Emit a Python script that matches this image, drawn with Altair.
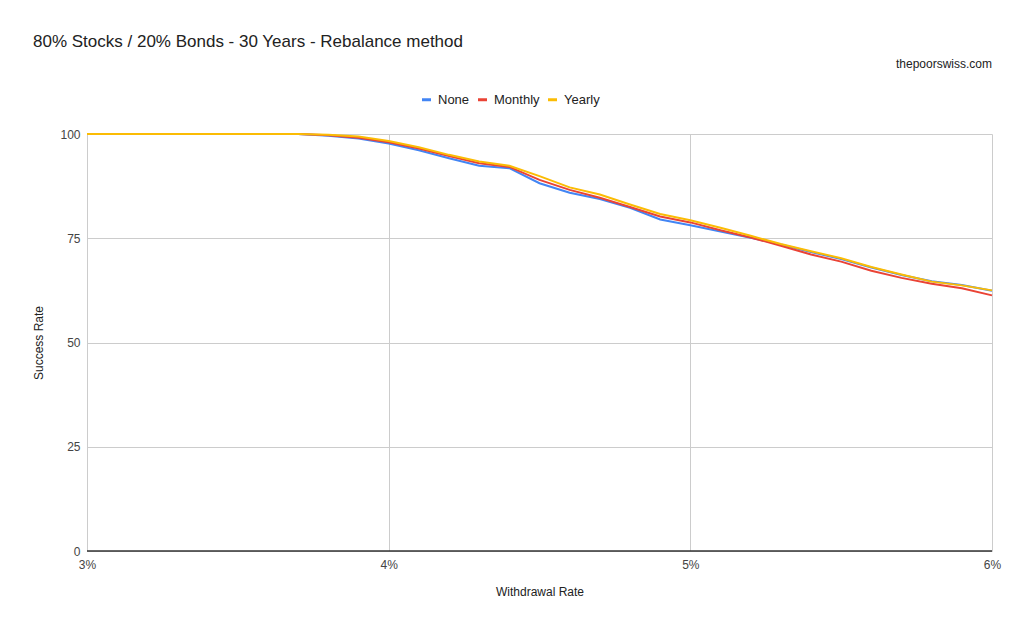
import altair as alt
import pandas as pd

rates = [3.0, 3.1, 3.2, 3.3, 3.4, 3.5, 3.6, 3.7, 3.8, 3.9,
         4.0, 4.1, 4.2, 4.3, 4.4, 4.5, 4.6, 4.7, 4.8, 4.9,
         5.0, 5.1, 5.2, 5.3, 5.4, 5.5, 5.6, 5.7, 5.8, 5.9, 6.0]

none_vals = [100, 100, 100, 100, 100, 100, 100, 100, 99.6, 98.9,
             97.7, 96.1, 94.2, 92.4, 91.8, 88.2, 85.9, 84.4, 82.3, 79.5,
             78.1, 76.6, 75.1, 73.5, 71.7, 70.0, 68.0, 66.2, 64.7, 63.8, 62.4]

monthly_vals = [100, 100, 100, 100, 100, 100, 100, 100, 99.7, 99.1,
                98.0, 96.5, 94.7, 93.0, 92.1, 89.0, 86.6, 84.7, 82.5, 80.2,
                78.8, 76.9, 75.2, 73.2, 71.1, 69.4, 67.2, 65.5, 64.1, 63.0, 61.3]

yearly_vals = [100, 100, 100, 100, 100, 100, 100, 100, 99.8, 99.4,
               98.3, 96.8, 95.0, 93.4, 92.4, 89.9, 87.2, 85.5, 83.1, 80.8,
               79.3, 77.5, 75.6, 73.6, 71.9, 70.2, 68.1, 66.3, 64.6, 63.7, 62.5]

series_names = ["None", "Monthly", "Yearly"]
series_colors = ["#4285F4", "#EA4335", "#FBBC04"]
x_ticks = [3, 4, 5, 6]
y_ticks = [0, 25, 50, 75, 100]

title_text = "80% Stocks / 20% Bonds - 30 Years - Rebalance method"
source_text = "thepoorswiss.com"

rows = []
for name, vals in zip(series_names, [none_vals, monthly_vals, yearly_vals]):
    for r, v in zip(rates, vals):
        rows.append({"rate": r, "value": v, "series": name,
                     "order": series_names.index(name)})
df = pd.DataFrame(rows)

FONT = "Liberation Sans"
W, H = 905, 417

lines = alt.Chart(df).mark_line(strokeWidth=2).encode(
    x=alt.X("rate:Q",
            scale=alt.Scale(domain=[3, 6], nice=False, zero=False),
            axis=alt.Axis(values=x_ticks, labelExpr="datum.value + '%'",
                          title="Withdrawal Rate", grid=True, domain=False,
                          ticks=False, labelPadding=8, titlePadding=16,
                          labelFlush=False)),
    y=alt.Y("value:Q",
            scale=alt.Scale(domain=[0, 100], nice=False),
            axis=alt.Axis(values=y_ticks, title="Success Rate", grid=True,
                          domain=False, ticks=False, labelPadding=7,
                          titlePadding=14, labelFlush=False)),
    color=alt.Color("series:N",
                    scale=alt.Scale(domain=series_names, range=series_colors),
                    sort=series_names,
                    legend=alt.Legend(title=None, orient="none",
                                      direction="horizontal",
                                      legendX=333, legendY=-41,
                                      symbolType="stroke",
                                      symbolStrokeWidth=3, symbolSize=81,
                                      labelFontSize=13, labelColor="#222222",
                                      labelFont=FONT, labelOffset=5,
                                      columnPadding=2)),
    order=alt.Order("order:Q"),
    detail="series:N",
)

baseline = alt.Chart(pd.DataFrame({"y": [0]})).mark_rule(
    color="#333333", strokeWidth=1.5
).encode(y=alt.Y("y:Q"))

title = alt.Chart(pd.DataFrame({"t": [title_text]})).mark_text(
    align="left", baseline="alphabetic", fontSize=17, font=FONT,
    color="#222222"
).encode(text="t:N", x=alt.value(-54), y=alt.value(-87))

source = alt.Chart(pd.DataFrame({"t": [source_text]})).mark_text(
    align="right", baseline="alphabetic", fontSize=12, font=FONT,
    color="#222222"
).encode(text="t:N", x=alt.value(W), y=alt.value(-66))

chart = alt.layer(lines, baseline, title, source).properties(
    width=W, height=H,
    background="white",
    autosize=alt.AutoSizeParams(type="none"),
    padding={"left": 79, "top": 126, "right": 24, "bottom": 70},
).configure_view(stroke=None).configure_axis(
    labelFont=FONT, titleFont=FONT, labelFontSize=12, titleFontSize=12,
    labelColor="#444444", titleColor="#222222", titleFontWeight="normal",
    gridColor="#cccccc", gridWidth=1
)

chart.save("out.html", embed_options={"renderer": "svg", "actions": False})
